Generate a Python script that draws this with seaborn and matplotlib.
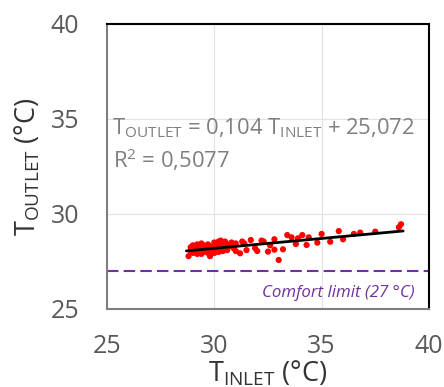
import matplotlib
matplotlib.use("Agg")
import matplotlib.pyplot as plt
import numpy as np
import pandas as pd
import seaborn as sns

t_inlet = [28.8, 28.9, 28.9, 29.0, 29.0, 29.0, 29.1, 29.1, 29.2, 29.2, 29.2, 29.3, 29.3, 29.3,
           29.4, 29.4, 29.4, 29.5, 29.5, 29.5, 29.6, 29.6, 29.7, 29.7, 29.7, 29.8, 29.8, 29.9,
           29.9, 30.0, 30.0, 30.0, 30.1, 30.1, 30.2, 30.2, 30.3, 30.3, 30.3, 30.4, 30.4, 30.5,
           30.5, 30.6, 30.6, 30.7, 30.8, 30.9, 31.0, 31.0, 31.2, 31.3, 31.4, 31.5, 31.7, 31.9,
           32.0, 32.2, 32.3, 32.5, 32.6, 32.8, 32.8, 33.0, 33.2, 33.4, 33.6, 33.8, 33.9, 34.1,
           34.3, 34.4, 34.8, 35.0, 35.4, 35.8, 36.0, 36.5, 36.8, 37.5, 38.6, 38.7]
t_outlet = [27.78, 28.05, 28.25, 27.95, 28.15, 28.35, 28.05, 28.3, 27.9, 28.15, 28.4, 28.0, 28.2, 28.3,
            27.9, 28.1, 28.45, 28.0, 28.2, 28.35, 28.05, 28.25, 27.95, 28.15, 28.4, 27.78, 28.3, 28.05,
            28.2, 27.95, 28.3, 28.5, 28.1, 28.4, 28.0, 28.55, 28.2, 28.35, 28.6, 28.05, 28.45, 28.25,
            28.55, 28.1, 28.4, 28.3, 28.5, 28.2, 28.45, 28.05, 27.93, 28.55, 28.45, 28.1, 28.63, 28.2,
            28.05, 28.6, 28.55, 28.02, 28.35, 28.67, 28.12, 27.58, 28.14, 28.89, 28.77, 28.42, 28.72, 28.89,
            28.37, 28.77, 28.49, 28.95, 28.54, 29.1, 28.67, 28.95, 29.02, 29.07, 29.3, 29.46]

# trendline (from the chart's equation)
slope = 0.104
intercept = 25.072
r2 = 0.5077
comfort_limit = 27

df = pd.DataFrame({"inlet": t_inlet, "outlet": t_outlet})
fit_x = np.array([28.7, 38.8])
fit = pd.DataFrame({"inlet": fit_x, "outlet": slope * fit_x + intercept})

sns.set_style("white")
plt.rcParams["font.family"] = ["Open Sans", "DejaVu Sans"]
plt.rcParams["mathtext.fontset"] = "custom"
plt.rcParams["mathtext.rm"] = "Open Sans"
plt.rcParams["mathtext.it"] = "Open Sans:italic"

fig = plt.figure(figsize=(4.44, 3.87), dpi=100)
ax = fig.add_axes([0.241, 0.2016, 0.725, 0.7364])

sns.scatterplot(data=df, x="inlet", y="outlet", color="#ff0000", s=20,
                edgecolor="none", ax=ax, zorder=3)
sns.lineplot(data=fit, x="inlet", y="outlet", color="black", lw=2, ax=ax, zorder=4)
ax.axhline(comfort_limit, color="#7030A0", lw=1.5, dashes=(5.5, 2.5), zorder=2)

ax.set_xlim(25, 40)
ax.set_ylim(25, 40)
ax.set_xticks([25, 30, 35, 40])
ax.set_yticks([25, 30, 35, 40])
ax.grid(True, color="#e3e3e3", lw=0.8)
ax.tick_params(length=0, labelsize=18, colors="#595959")
ax.tick_params(axis="x", pad=18)
ax.tick_params(axis="y", pad=20)

for s in ["left", "bottom"]:
    ax.spines[s].set_color("#7f7f7f")
    ax.spines[s].set_linewidth(1.5)
for s in ["top", "right"]:
    ax.spines[s].set_color("black")
    ax.spines[s].set_linewidth(1.5)

ax.set_xlabel(r"T$_{\mathrm{INLET}}$ (°C)", fontsize=19.5, color="#333333", labelpad=0)
ax.set_ylabel(r"T$_{\mathrm{OUTLET}}$ (°C)", fontsize=19.5, color="#333333", labelpad=6)

ax.text(25.23, 34.5, r"T$_{\mathrm{OUTLET}}$ = 0,104 T$_{\mathrm{INLET}}$ + 25,072",
        fontsize=15.8, color="#7f7f7f", va="center", ha="left")
ax.text(25.3, 32.85, r"R$^{2}$ = " + f"{r2}".replace(".", ","),
        fontsize=15.8, color="#7f7f7f", va="center", ha="left")
ax.text(39.35, 25.85, "Comfort limit (27 °C)", fontsize=12.2, style="italic",
        color="#7030A0", ha="right", va="center")

fig.savefig("out.png", dpi=100)
